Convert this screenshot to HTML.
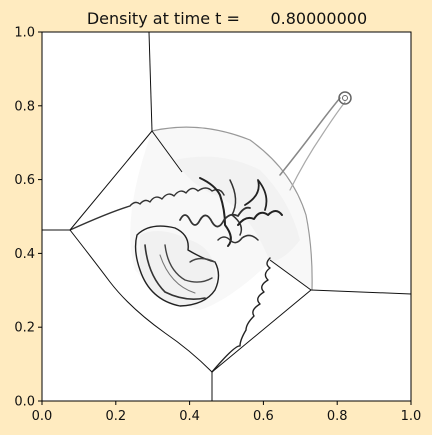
<!DOCTYPE html>
<html><head><meta charset="utf-8"><style>
html,body{margin:0;padding:0;background:#ffebc0;}
svg{display:block;font-family:"DejaVu Sans","Liberation Sans",sans-serif;}
</style></head><body>
<svg id="chart" width="432" height="435" viewBox="0 0 432 435">
<rect x="0" y="0" width="432" height="435" fill="#ffebc0"/>
<text x="227" y="24" font-size="16" text-anchor="middle" fill="#111" xml:space="preserve">Density at time t =      0.80000000</text>
<rect x="42" y="32" width="369" height="369" fill="#fff"/>
<g fill="none" stroke-linecap="round" stroke-linejoin="round">
  <path d="M152,131 Q200,122 250,140 Q290,170 305,215 Q312,250 312,290 L270,262 Q230,300 200,310 Q160,300 135,270 Q120,220 152,131Z" fill="#f8f8f8" stroke="none"/>
  <path d="M175,160 Q220,150 260,170 Q290,200 300,240 Q285,260 270,262 Q250,210 215,195 Q190,185 175,160Z" fill="#eeeeee" stroke="none" opacity="0.6"/>
  <path d="M140,235 Q160,225 190,240 Q220,250 215,290 Q200,310 180,306 Q150,300 140,270Z" fill="#f1f1f1" stroke="none"/>
  <path d="M152,131 Q200,120 250,140 Q292,170 306,215 Q313,250 312,290" stroke="#999" stroke-width="1.2"/>
  <path d="M280,175 Q300,150 315,130 Q330,110 340,98" stroke="#888" stroke-width="1.5"/>
  <path d="M290,190 Q305,160 322,135 Q335,115 345,102" stroke="#aaa" stroke-width="1.2"/>
  <circle cx="345" cy="98" r="6" stroke="#666" stroke-width="1.5"/>
  <circle cx="345" cy="98" r="2.5" stroke="#666" stroke-width="1"/>
  <path d="M70,230 Q110,212 130,206 q5,-6 10,-2 q5,-6 10,-2 q5,-8 12,-3 q6,-8 12,-3 q6,-8 12,-3 q6,-8 12,-2 q8,-6 14,0 q8,-4 12,4" stroke="#333" stroke-width="1.4"/>
  <path d="M200,178 Q215,185 220,195 Q225,210 225,225 Q235,238 228,246" stroke="#222" stroke-width="2"/>
  <path d="M230,180 Q240,200 232,215 Q245,225 240,235" stroke="#333" stroke-width="1.5"/>
  <path d="M180,220 q5,-10 10,0 q5,10 10,0 q6,-10 12,2 q6,10 12,-2 q6,-8 14,-4 q6,-10 12,-8" stroke="#333" stroke-width="1.8"/>
  <path d="M238,225 q8,-10 16,-6 q6,-10 14,-4 q8,-8 14,0" stroke="#222" stroke-width="2"/>
  <path d="M245,205 Q262,195 258,180 Q270,195 265,210" stroke="#222" stroke-width="1.8"/>
  <path d="M218,240 q6,-6 12,0 q6,6 12,-2 q8,-6 16,2" stroke="#333" stroke-width="1.5"/>
  <path d="M270,258 q-6,6 0,10 q-8,6 -2,12 q-10,6 -4,12 q-10,6 -4,12 q-10,6 -6,12 q-8,8 -8,14 q-6,10 -6,16 Q235,345 212,372" stroke="#222" stroke-width="1.4"/>
  <path d="M137,235 Q150,222 175,228 Q190,235 188,250 Q205,260 215,262 Q222,275 215,290 Q205,305 180,306 Q150,300 140,270 Q133,250 137,235Z" stroke="#222" stroke-width="1.4"/>
  <path d="M145,245 Q148,275 165,292 Q185,302 205,298" stroke="#333" stroke-width="1.6"/>
  <path d="M165,245 Q168,270 185,280 Q200,285 212,278" stroke="#444" stroke-width="1.4"/>
  <path d="M160,255 Q170,285 195,293" stroke="#777" stroke-width="1.1"/>
  <path d="M190,262 Q200,255 215,262" stroke="#444" stroke-width="1.4"/>
</g>
<g fill="none" stroke="#111" stroke-width="1">
  <path d="M149,32 L152,131"/>
  <path d="M152,131 L70,230"/>
  <path d="M152,131 L182,172"/>
  <path d="M42,230 L70,230"/>
  <path d="M70,230 Q95,262 110,282 Q130,308 165,333 Q190,350 212,372"/>
  <path d="M212,372 L212,401"/>
  <path d="M212,372 L311,290"/>
  <path d="M270,260 L311,290"/>
  <path d="M311,290 L411,294"/>
</g>
<rect x="42" y="32" width="369" height="369" fill="none" stroke="#000" stroke-width="1"/>
<g id="axes" fill="#111" font-size="13"></g>
<script>
const xTicks=[0,0.2,0.4,0.6,0.8,1.0];
const yTicks=[0,0.2,0.4,0.6,0.8,1.0];
const tickLabels=["0.0","0.2","0.4","0.6","0.8","1.0"];
const X0=42,Y0=401,W=369,H=369;
function sx(v){return X0+v*W;}
function sy(v){return Y0-v*H;}
const g=document.getElementById('axes');
const NS="http://www.w3.org/2000/svg";
xTicks.forEach((v,i)=>{
  const l=document.createElementNS(NS,'line');
  l.setAttribute('x1',sx(v));l.setAttribute('x2',sx(v));l.setAttribute('y1',Y0);l.setAttribute('y2',Y0+4);l.setAttribute('stroke','#000');
  
  
  g.appendChild(l);
  const t=document.createElementNS(NS,'text');
  t.setAttribute('x',sx(v));t.setAttribute('y',Y0+19);t.setAttribute('text-anchor','middle');
  t.textContent=tickLabels[i];
  
  
  g.appendChild(t);
});
yTicks.forEach((v,i)=>{
  const l=document.createElementNS(NS,'line');
  l.setAttribute('x1',X0-4);l.setAttribute('x2',X0);l.setAttribute('y1',sy(v));l.setAttribute('y2',sy(v));l.setAttribute('stroke','#000');
  
  
  g.appendChild(l);
  const t=document.createElementNS(NS,'text');
  t.setAttribute('x',X0-7);t.setAttribute('y',sy(v)+4.5);t.setAttribute('text-anchor','end');
  t.textContent=tickLabels[i];
  
  
  g.appendChild(t);
});
</script>
</svg>
</body></html>
